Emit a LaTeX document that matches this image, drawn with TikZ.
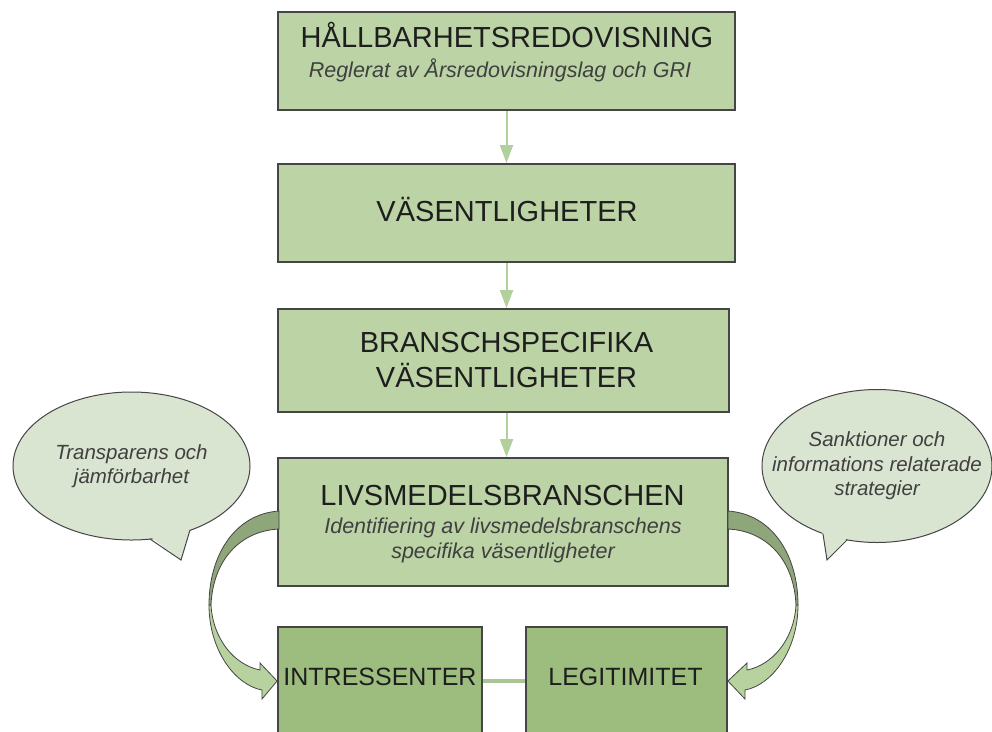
\documentclass[tikz,border=0pt]{standalone}
\usepackage{fontspec}
\setmainfont{Liberation Sans}
\usetikzlibrary{arrows.meta,shapes.geometric}
\definecolor{boxfill}{HTML}{BBD3A5}
\definecolor{boxdark}{HTML}{9DBD7E}
\definecolor{edge}{HTML}{454545}
\definecolor{bubfill}{HTML}{D9E4D1}
\definecolor{arrowgreen}{HTML}{B2D09C}
\definecolor{banddark}{HTML}{8EA679}
\definecolor{bandlight}{HTML}{B8D29F}
\definecolor{txt}{HTML}{1E1E1E}
\begin{document}
\begin{tikzpicture}[x=1pt,y=-1pt,
  box/.style={draw=edge, line width=1.8pt, fill=boxfill, rectangle, inner sep=0pt},
  boxd/.style={box, fill=boxdark},
  big/.style={font=\fontsize{29}{33}\selectfont, text=txt, anchor=base, inner sep=0pt},
  sub/.style={font=\fontsize{21.5}{26}\selectfont\itshape, text=txt!85!white, anchor=base, inner sep=0pt},
  bubble/.style={ellipse, draw=edge, line width=1pt, fill=bubfill, inner sep=0pt},
  bubtext/.style={font=\fontsize{20.5}{24.5}\selectfont\itshape, text=txt!85!white, align=center, inner sep=0pt},
  varrow/.style={draw=arrowgreen, line width=2pt, -{Triangle[width=13pt,length=18pt]}},
  band/.style={draw=edge, line width=0.8pt}
]
\useasboundingbox (0,0) rectangle (992,731);
\clip (0,0) rectangle (992,731);

% boxes
\node[box, minimum width=457pt, minimum height=98pt] (b1) at (506.5,61) {};
\node[box, minimum width=457pt, minimum height=98pt] (b2) at (506.5,213) {};
\node[box, minimum width=451pt, minimum height=103pt] (b3) at (503.5,360.5) {};
\node[box, minimum width=450pt, minimum height=128pt] (b4) at (503,522) {};
\node[boxd, minimum width=204pt, minimum height=108pt] (b5) at (380,681) {};
\node[boxd, minimum width=201pt, minimum height=108pt] (b6) at (626.5,681) {};

% box texts
\node[big] (t1) at (507,47) {HÅLLBARHETSREDOVISNING};
\node[sub] (s1) at (500,77) {Reglerat av Årsredovisningslag och GRI};
\node[big] (t2) at (507,221) {VÄSENTLIGHETER};
\node[big] (t3a) at (506.5,352) {BRANSCHSPECIFIKA};
\node[big] (t3b) at (506.5,387) {VÄSENTLIGHETER};
\node[big] (t4) at (502.5,505) {LIVSMEDELSBRANSCHEN};
\node[sub] (s4a) at (503,533) {Identifiering av livsmedelsbranschens};
\node[sub] (s4b) at (503,558) {specifika väsentligheter};
\node[big, font=\fontsize{25}{29}\selectfont] (t5) at (380,685) {INTRESSENTER};
\node[big, font=\fontsize{25}{29}\selectfont] (t6) at (625.5,685) {LEGITIMITET};

% vertical arrows
\draw[varrow] (b1.south) -- (b2.north);
\draw[varrow] (b2.south) -- (b3.north -| b2.south);
\draw[varrow] (b3.south -| b2.south) -- (b4.north -| b2.south);

% connector between bottom boxes
\draw[draw=arrowgreen!95!black, line width=4pt] (b5.east) -- (b6.west);

% left curved arrow
\draw[band, fill=banddark] (279,511) .. controls (235,514) and (209,555) .. (209,605)
  -- (211,605) .. controls (213,560) and (240,531) .. (279,529) -- cycle;
\draw[band, fill=bandlight] (209,605) .. controls (209,650) and (235,685) .. (262,690)
  -- (262,699) -- (b5.west) -- (260,663) -- (260,670)
  .. controls (235,665) and (213,640) .. (211,605) -- cycle;

% right curved arrow
\draw[band, fill=banddark] (728,511) .. controls (772,514) and (798,555) .. (798,605)
  -- (796,605) .. controls (794,560) and (767,531) .. (728,529) -- cycle;
\draw[band, fill=bandlight] (798,605) .. controls (798,650) and (772,685) .. (745,690)
  -- (745,699) -- (b6.east) -- (747,663) -- (747,670)
  .. controls (772,665) and (794,640) .. (796,605) -- cycle;

% left bubble
\node[bubble, minimum width=237pt, minimum height=148pt] (e1) at (131.5,466) {};
\fill[bubfill] (148,535) -- (181,560) -- (191,526) -- cycle;
\draw[draw=edge, line width=1pt, line join=miter] (150,539) -- (181,560) -- (190,530);
\node[bubtext] (e1t) at (e1.center) {Transparens och\\jämförbarhet};

% right bubble
\node[bubble, minimum width=230pt, minimum height=153pt] (e2) at (877,466) {};
\fill[bubfill] (822,530) -- (827,560) -- (848,537) -- cycle;
\draw[draw=edge, line width=1pt, line join=miter] (823,534) -- (827,560) -- (847,540);
\node[bubtext] (e2t) at (e2.center) {Sanktioner och\\informations relaterade\\strategier};
\end{tikzpicture}
\end{document}
